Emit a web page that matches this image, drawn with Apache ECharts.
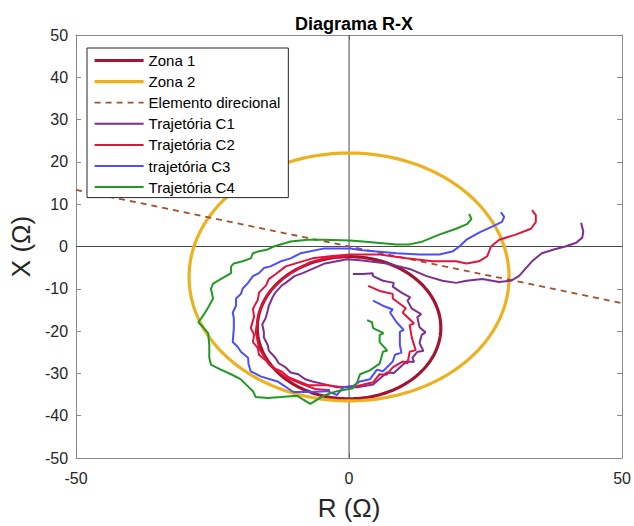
<!DOCTYPE html>
<html>
<head>
<meta charset="utf-8">
<script src="https://cdn.jsdelivr.net/npm/echarts@6/dist/echarts.min.js"></script>
<style>html,body{margin:0;padding:0;background:#fff}#main{width:634px;height:526px}</style>
</head>
<body>
<div id="main"></div>
<script>
// ---- data ----
const legendNames = ['Zona 1','Zona 2','Elemento direcional','Trajetória C1','Trajetória C2','trajetória C3','Trajetória C4'];
const xTicksR = [-50, 0, 50];
const yTicksX = [-50,-40,-30,-20,-10,0,10,20,30,40,50];
// zones: [centerR, centerX, radius]
const zona1 = [0.0, -19.2, 16.8];
const zona2 = [0.0, -7.2, 29.3];
const direcional = [[-50, 13.4], [50, -13.4]];
const eixoR = [[-50, 0], [50, 0]];
const eixoX = [[0, -50], [0, 50]];

const trajC1 = [[42.5,5.6],[42.9,3.5],[42.7,2.1],[41.6,0.9],[39.6,0.0],[37.5,-0.7],[35.3,-1.6],[33.5,-3.5],[32.4,-5.1],[31.1,-7.0],[29.6,-8.1],[27.5,-8.4],[24.4,-7.7],[21.5,-8.1],[19.6,-8.6],[17.1,-8.1],[14.2,-7.0],[11.1,-5.3],[6.9,-4.0],[2.5,-3.3],[-0.4,-3.0],[-4.4,-4.0],[-8.5,-6.3],[-10.0,-7.0],[-11.6,-8.6],[-12.3,-9.2],[-13.5,-10.9],[-14.0,-12.0],[-14.7,-14.0],[-14.9,-15.2],[-15.3,-17.0],[-15.9,-18.4],[-15.6,-20.2],[-15.6,-21.5],[-14.9,-23.3],[-14.7,-24.6],[-13.5,-26.3],[-12.9,-27.6],[-11.6,-28.6],[-10.7,-29.8],[-9.3,-30.2],[-8.0,-31.4],[-6.7,-31.9],[-4.4,-32.6],[-2.2,-33.3],[1.5,-33.3],[4.4,-32.6],[6.9,-29.8],[8.2,-29.9],[9.3,-28.6],[10.5,-27.2],[11.9,-27.3],[11.6,-26.3],[12.5,-24.9],[13.6,-24.7],[12.9,-22.8],[13.3,-20.9],[14.0,-20.3],[12.9,-19.1],[12.5,-16.7],[13.2,-16.0],[11.5,-14.7],[10.7,-12.8],[11.2,-12.0],[9.6,-10.9],[8.0,-9.5],[8.2,-8.6],[6.2,-8.1],[4.4,-7.0],[4.3,-6.3],[2.5,-6.5],[0.7,-6.5]];

const trajC2 = [[33.5,8.6],[34.2,7.4],[34.2,5.8],[33.3,4.2],[30.5,2.8],[27.5,1.6],[26.0,0.0],[25.3,-2.3],[23.8,-3.5],[21.5,-4.0],[19.6,-3.5],[15.3,-3.5],[10.5,-2.8],[5.6,-1.9],[0.2,-1.9],[-3.5,-2.3],[-6.7,-2.8],[-11.6,-4.7],[-13.4,-6.5],[-14.7,-7.7],[-15.2,-9.2],[-16.5,-10.9],[-16.7,-12.6],[-17.6,-14.7],[-17.4,-16.6],[-18.0,-19.3],[-17.4,-20.8],[-17.6,-22.6],[-16.7,-24.0],[-16.5,-25.6],[-15.0,-27.2],[-14.0,-28.6],[-12.3,-29.6],[-11.1,-30.9],[-7.5,-32.8],[-4.0,-32.8],[-1.1,-33.3],[1.5,-33.0],[4.4,-32.1],[5.6,-30.2],[6.9,-30.3],[8.0,-28.6],[9.8,-27.2],[10.7,-27.6],[11.1,-24.9],[12.2,-24.5],[11.5,-21.6],[11.1,-18.6],[11.9,-18.2],[9.8,-15.6],[10.4,-14.6],[8.0,-12.3],[8.0,-11.2],[5.6,-10.5],[3.5,-9.3]];
const trajC2b = [[0.2,-2.1],[-3.5,-2.6],[-7.1,-3.7],[-11.6,-7.0],[-14.7,-10.9],[-16.5,-15.6],[-17.1,-20.2],[-16.5,-24.0],[-14.7,-27.9],[-11.6,-30.9],[-8.5,-32.6],[-6.2,-33.7],[-3.5,-34.0]];

const trajC3 = [[27.8,8.1],[28.4,7.0],[28.0,5.8],[26.2,4.7],[23.8,3.3],[21.5,1.6],[20.2,0.0],[18.9,-1.2],[16.5,-1.9],[12.9,-1.9],[8.7,-1.6],[2.5,-0.9],[0.2,-0.5],[-4.7,-0.5],[-8.9,-1.6],[-10.7,-2.8],[-12.5,-3.5],[-14.4,-4.7],[-15.6,-5.1],[-16.5,-6.3],[-17.6,-7.0],[-18.5,-8.6],[-19.5,-10.0],[-19.8,-11.2],[-20.7,-12.3],[-20.7,-14.0],[-21.3,-15.6],[-21.1,-17.0],[-21.1,-19.3],[-21.3,-22.6],[-20.4,-23.7],[-19.8,-24.9],[-18.5,-26.3],[-18.4,-27.9],[-18.0,-29.5],[-16.2,-30.7],[-13.1,-31.9],[-10.2,-34.4],[-7.1,-34.4],[-4.0,-34.2],[-2.2,-35.1],[-1.1,-33.3],[0.7,-33.0],[2.0,-31.9],[3.8,-31.4],[5.1,-29.1],[6.2,-29.5],[6.9,-28.6],[8.0,-27.2],[8.4,-25.6],[9.6,-25.1],[9.3,-23.3],[9.3,-20.2],[10.0,-19.7],[8.7,-17.9],[7.5,-15.6],[8.0,-14.9],[6.2,-14.0],[4.4,-12.8]];

const trajC4 = [[22.0,7.7],[22.4,6.5],[21.6,5.3],[19.6,4.2],[16.5,2.8],[13.5,1.2],[11.1,0.5],[8.7,0.5],[2.5,1.2],[0.2,1.4],[-4.7,1.6],[-7.6,1.6],[-10.7,1.2],[-13.8,0.0],[-14.9,-0.7],[-16.7,-1.2],[-17.6,-1.6],[-18.0,-2.8],[-19.5,-3.5],[-21.1,-4.0],[-21.6,-4.7],[-21.6,-6.3],[-23.5,-7.7],[-24.9,-8.8],[-25.3,-10.0],[-24.9,-12.3],[-25.8,-14.4],[-26.7,-16.3],[-27.6,-17.9],[-26.7,-19.1],[-25.8,-20.5],[-25.6,-23.3],[-25.6,-26.3],[-25.3,-27.9],[-23.5,-29.1],[-21.6,-30.2],[-19.8,-31.4],[-18.9,-32.6],[-17.6,-34.2],[-17.1,-35.6],[-14.9,-35.8],[-12.5,-35.6],[-9.5,-35.3],[-7.1,-37.2],[-4.7,-35.3],[-2.2,-34.2],[0.7,-33.5],[1.5,-32.1],[2.0,-30.2],[3.8,-29.3],[5.6,-27.7],[6.2,-24.9],[7.0,-24.6],[5.6,-22.6],[5.6,-20.9],[6.3,-20.5],[4.4,-19.3],[4.2,-17.9],[3.3,-17.4]];

// ---- build ----
function circlePts(z) {
  const pts = [];
  const n = 240;
  for (let i = 0; i <= n; i++) {
    const t = 2 * Math.PI * i / n;
    pts.push([z[0] + z[2] * Math.cos(t), z[1] + z[2] * Math.sin(t)]);
  }
  return pts;
}

const FONT = 'Liberation Sans, Arial, Helvetica, sans-serif';
const boxColor = '#8a8a8a';
const textColor = '#262626';

const C = {
  z1: '#A2142F', z2: '#EDB120', dir: '#A0522D',
  c1: '#7E2F8E', c2: '#E0143C', c3: '#4D4DFF', c4: '#229922'
};
const W = { z1: 3.2, z2: 3.2, dir: 1.8, c: 2 };

function lineSeries(name, data, color, width, extra) {
  return Object.assign({
    type: 'line', name: name, data: data, symbol: 'none', showSymbol: false,
    smooth: false, animation: false, z: 3,
    lineStyle: { color: color, width: width },
    itemStyle: { color: color },
    emphasis: { disabled: true }
  }, extra || {});
}

const legendWidths = [W.z1, W.z2, W.dir, W.c, W.c, W.c, W.c];

const chart = echarts.init(document.getElementById('main'), null, { renderer: 'svg' });
const axisCommon = {
  type: 'value', min: -50, max: 50,
  axisLine: { show: true, onZero: false, lineStyle: { color: boxColor, width: 1 } },
  axisTick: { show: true, inside: true, length: 5, lineStyle: { color: boxColor } },
  splitLine: { show: false }
};
chart.setOption({
  animation: false,
  backgroundColor: '#fff',
  grid: { left: 74, right: 10, top: 35, bottom: 61, containLabel: false },
  title: {
    text: 'Diagrama R-X', left: 349, top: 10, textAlign: 'center',
    textStyle: { fontFamily: FONT, fontSize: 18, fontWeight: 'bold', color: '#000' }
  },
  legend: {
    data: legendNames.map((n, i) => ({ name: n, lineStyle: { width: legendWidths[i] } })),
    orient: 'vertical', left: 87, top: 48,
    itemWidth: 49, itemHeight: 14, itemGap: 6.1,
    padding: [5, 8, 3, 6], borderColor: '#262626', borderWidth: 1, backgroundColor: '#fff',
    itemStyle: { opacity: 0 },
    textStyle: { fontFamily: FONT, fontSize: 15, color: '#000' },
    selectedMode: false
  },
  xAxis: [
    Object.assign({}, axisCommon, {
      position: 'bottom', interval: 50,
      axisLabel: { color: textColor, fontSize: 16, fontFamily: FONT, margin: 12,
        formatter: v => xTicksR.includes(v) ? String(v) : '' },
      name: 'R (Ω)', nameLocation: 'middle', nameGap: 37,
      nameTextStyle: { fontFamily: FONT, fontSize: 26, color: textColor }
    }),
    Object.assign({}, axisCommon, { position: 'top', interval: 50, axisLabel: { show: false } })
  ],
  yAxis: [
    Object.assign({}, axisCommon, {
      position: 'left', interval: 10,
      axisLabel: { color: textColor, fontSize: 16, fontFamily: FONT, margin: 8,
        formatter: v => yTicksX.includes(v) ? String(v) : '' },
      name: 'X (Ω)', nameLocation: 'middle', nameGap: 40,
      nameTextStyle: { fontFamily: FONT, fontSize: 26, color: textColor }
    }),
    Object.assign({}, axisCommon, { position: 'right', interval: 10, axisLabel: { show: false } })
  ],
  series: [
    lineSeries('eixoR', eixoR, '#4a4a4a', 1, { z: 2 }),
    lineSeries('eixoX', eixoX, '#4a4a4a', 1, { z: 2 }),
    lineSeries('Zona 1', circlePts(zona1), C.z1, W.z1),
    lineSeries('Zona 2', circlePts(zona2), C.z2, W.z2),
    lineSeries('Elemento direcional', direcional, C.dir, W.dir, { lineStyle: { color: C.dir, width: W.dir, type: [6, 5] } }),
    lineSeries('Trajetória C1', trajC1, C.c1, W.c),
    lineSeries('Trajetória C2', trajC2, C.c2, W.c),
    lineSeries('Trajetória C2', trajC2b, C.c2, W.c),
    lineSeries('trajetória C3', trajC3, C.c3, W.c),
    lineSeries('Trajetória C4', trajC4, C.c4, W.c)
  ]
});
</script>
</body>
</html>
